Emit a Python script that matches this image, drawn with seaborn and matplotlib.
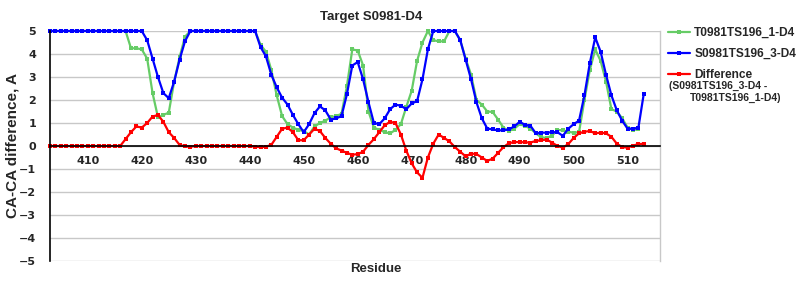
import numpy as np
import pandas as pd
import matplotlib
matplotlib.use("Agg")
import matplotlib.pyplot as plt
import seaborn as sns

# ---- data ----
residues = list(range(403, 514))

model_1 = [
    5, 5, 5, 5, 5, 5, 5, 5, 5, 5,
    5, 5, 5, 5, 5, 4.25, 4.25, 4.2, 3.8, 2.3,
    1.25, 1.35, 1.45, 2.8, 3.85, 4.75, 5, 5, 5, 5,
    5, 5, 5, 5, 5, 5, 5, 5, 5, 4.4,
    4.1, 3.3, 2.2, 1.3, 0.95, 0.8, 0.7, 0.65, 0.5, 0.85,
    1.0, 1.1, 1.25, 1.3, 1.4, 2.6, 4.2, 4.15, 3.5, 1.5,
    0.8, 0.7, 0.6, 0.55, 0.7, 0.95, 1.7, 2.4, 3.7, 4.5,
    5, 4.6, 4.55, 4.55, 5, 5, 4.6, 3.8, 3.1, 2.0,
    1.8, 1.5, 1.48, 1.15, 0.8, 0.65, 0.75, 0.95, 0.87, 0.76,
    0.55, 0.38, 0.35, 0.45, 0.7, 0.68, 0.62, 0.58, 0.6, 2.0,
    3.3, 4.2, 3.7, 2.8, 1.6, 1.5, 1.2, 0.8, 0.7, 0.73,
    np.nan,
]

model_3 = [
    5, 5, 5, 5, 5, 5, 5, 5, 5, 5,
    5, 5, 5, 5, 5, 5, 5, 5, 4.6, 3.8,
    3.0, 2.3, 2.08, 2.8, 3.75, 4.55, 5, 5, 5, 5,
    5, 5, 5, 5, 5, 5, 5, 5, 5, 4.3,
    3.9, 3.1, 2.55, 2.1, 1.8, 1.35, 0.95, 0.6, 0.95, 1.43,
    1.72, 1.55, 1.15, 1.2, 1.3, 2.25, 3.5, 3.65, 2.9, 1.9,
    1.0, 0.95, 1.2, 1.6, 1.8, 1.75, 1.6, 1.85, 1.95, 2.9,
    4.2, 5, 5, 5, 5, 5, 4.6, 3.75, 2.9, 1.9,
    1.2, 0.76, 0.72, 0.68, 0.68, 0.72, 0.85, 1.05, 0.92, 0.88,
    0.55, 0.58, 0.58, 0.6, 0.6, 0.44, 0.75, 0.95, 1.1, 2.2,
    3.6, 4.72, 4.1, 3.1, 2.2, 1.55, 1.1, 0.75, 0.75, 0.8,
    2.28,
]

difference = [
    0, 0, 0, 0, 0, 0, 0, 0, 0, 0,
    0, 0, 0, 0, 0.3, 0.6, 0.85, 0.8, 1.0, 1.28,
    1.35, 1.05, 0.6, 0.35, 0.05, -0.02, -0.03, 0, 0, 0,
    0, 0, 0, 0, 0, 0, 0, 0, -0.03, -0.05,
    -0.03, 0.05, 0.4, 0.75, 0.8, 0.6, 0.25, 0.25, 0.5, 0.75,
    0.65, 0.35, 0.1, -0.1, -0.2, -0.3, -0.38, -0.35, -0.25, 0.05,
    0.3, 0.6, 0.9, 1.05, 1.0, 0.5, -0.2, -0.75, -1.15, -1.38,
    -0.5, 0.1, 0.5, 0.35, 0.2, -0.05, -0.25, -0.45, -0.33, -0.35,
    -0.5, -0.65, -0.55, -0.3, -0.05, 0.12, 0.17, 0.17, 0.16, 0.15,
    0.22, 0.25, 0.28, 0.15, 0.0, -0.07, 0.08, 0.35, 0.55, 0.62,
    0.65, 0.55, 0.58, 0.55, 0.4, 0.1, -0.05, -0.07, 0.02, 0.08,
    0.1,
]

series_names = ["T0981TS196_1-D4", "S0981TS196_3-D4", "Difference"]
series_colors = ["#66cc66", "#0000ff", "#ff0000"]
x_ticks = [410, 420, 430, 440, 450, 460, 470, 480, 490, 500, 510]
y_ticks = [-5, -4, -3, -2, -1, 0, 1, 2, 3, 4, 5]
title = "Target S0981-D4"
x_label = "Residue"
y_label = "CA-CA difference, A"
diff_note_1 = "(S0981TS196_3-D4 -"
diff_note_2 = "T0981TS196_1-D4)"

df = pd.DataFrame({
    "Residue": residues * 3,
    "value": model_1 + model_3 + difference,
    "series": [series_names[0]] * len(residues)
    + [series_names[1]] * len(residues)
    + [series_names[2]] * len(residues),
})

# ---- style ----
sns.set_style("white")
plt.rcParams["font.family"] = ["DejaVu Sans"]
plt.rcParams["axes.unicode_minus"] = True

fig = plt.figure(figsize=(8, 3), dpi=100)
ax = fig.add_axes([50 / 800, 1 - 261 / 300, 610 / 800, 230 / 300])

for name, color in zip(series_names, series_colors):
    sub = df[df["series"] == name]
    sns.lineplot(data=sub, x="Residue", y="value", ax=ax, color=color,
                 linewidth=1.6, marker="s", markersize=2.2, markeredgewidth=0,
                 legend=False, clip_on=False, label=name)

ax.set_xlim(403, 516)
ax.set_ylim(-5, 5)
ax.set_xticks(x_ticks)
ax.set_yticks(y_ticks)

ax.yaxis.grid(True, color="#c8c8c8", linewidth=1)
ax.xaxis.grid(False)
ax.set_axisbelow(True)

ax.spines["bottom"].set_position(("data", 0))
ax.spines["bottom"].set_color("black")
ax.spines["bottom"].set_linewidth(1.2)
ax.spines["left"].set_color("black")
ax.spines["left"].set_linewidth(1.2)
ax.spines["top"].set_visible(False)
ax.spines["right"].set_color("#c8c8c8")
ax.spines["right"].set_linewidth(1)

ax.tick_params(axis="x", direction="out", length=4, width=1, color="#c0c0c0",
               pad=3, labelsize=8)
ax.tick_params(axis="y", length=0, pad=10, labelsize=8)
for lab in ax.get_xticklabels() + ax.get_yticklabels():
    lab.set_fontweight("bold")
    lab.set_family("DejaVu Sans")
for lab in ax.get_yticklabels():
    lab.set_horizontalalignment("right")

lab_font = dict(family="Liberation Sans", weight="bold", size=9.5)
ax.set_title(title, fontdict=dict(family="Liberation Sans", weight="bold", size=9.5),
             x=(371 - 50) / 610, pad=8)
ax.set_xlabel(x_label, fontdict=lab_font)
ax.xaxis.set_label_coords((376 - 50) / 610, (261 - 263) / 230)
ax.set_ylabel(y_label, fontdict=dict(family="Liberation Sans", weight="bold", size=11))
ax.yaxis.set_label_coords((20 - 50) / 610, 0.5)

handles = ax.get_lines()[:3]
leg = fig.legend(handles, series_names, loc="upper left",
                 bbox_to_anchor=(668 / 800, 1 - 27 / 300), frameon=False,
                 handlelength=1.8, handletextpad=0.4, labelspacing=0.75,
                 borderpad=0, borderaxespad=0,
                 prop=dict(family="Liberation Sans", weight="bold", size=8.6))

fig.text(669 / 800, 1 - 86 / 300, diff_note_1, family="Liberation Sans",
         weight="bold", size=7.5, va="center", ha="left")
fig.text(690 / 800, 1 - 98 / 300, diff_note_2, family="Liberation Sans",
         weight="bold", size=7.5, va="center", ha="left")

fig.savefig("out.png", dpi=100)
